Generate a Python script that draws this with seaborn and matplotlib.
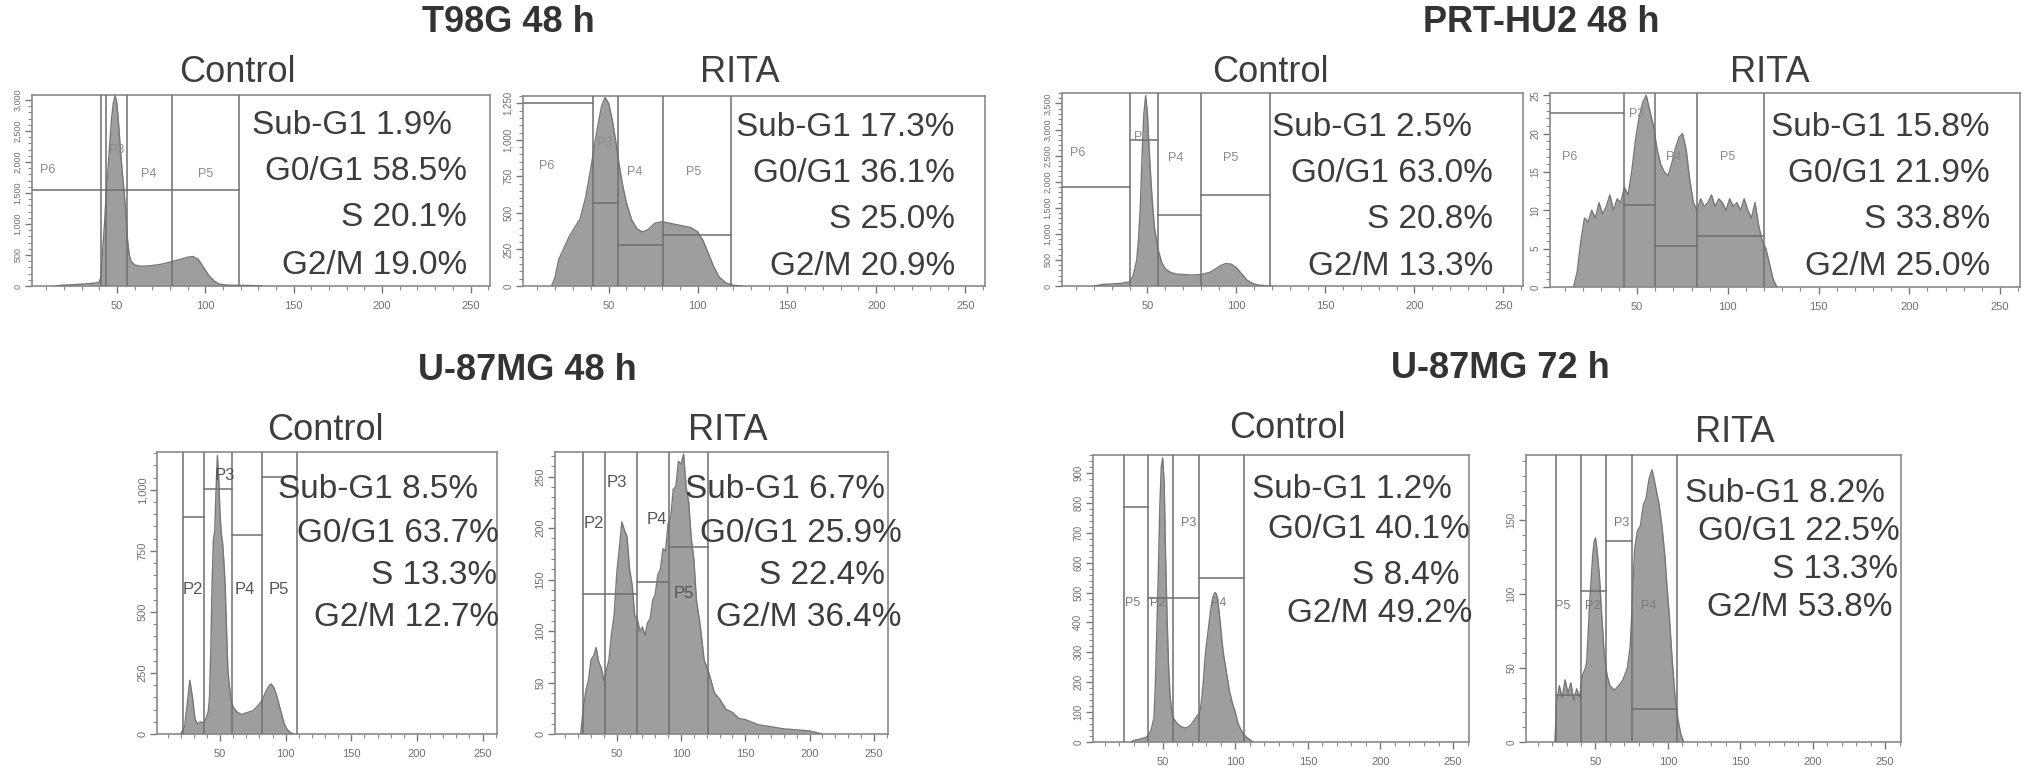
import matplotlib
matplotlib.use("Agg")
import matplotlib.pyplot as plt
from matplotlib.ticker import FuncFormatter, MultipleLocator, FixedLocator
import seaborn as sns

sns.set_style("white")
plt.rcParams['font.family'] = ['Liberation Sans', 'DejaVu Sans']

W, H, DPI = 2031, 777, 100

# ---------------- titles ----------------
GROUP_TITLES = ["T98G 48 h", "PRT-HU2 48 h", "U-87MG 48 h", "U-87MG 72 h"]
PANEL_TITLES = ["Control", "RITA", "Control", "RITA", "Control", "RITA", "Control", "RITA"]
STAT_NAMES = ["Sub-G1", "G0/G1", "S", "G2/M"]

# ---------------- percentages ----------------
T98G_CTRL_PCT = [1.9, 58.5, 20.1, 19.0]
T98G_RITA_PCT = [17.3, 36.1, 25.0, 20.9]
PRT_CTRL_PCT = [2.5, 63.0, 20.8, 13.3]
PRT_RITA_PCT = [15.8, 21.9, 33.8, 25.0]
U87_48_CTRL_PCT = [8.5, 63.7, 13.3, 12.7]
U87_48_RITA_PCT = [6.7, 25.9, 22.4, 36.4]
U87_72_CTRL_PCT = [1.2, 40.1, 8.4, 49.2]
U87_72_RITA_PCT = [8.2, 22.5, 13.3, 53.8]

# ---------------- histograms (channel, count) ----------------
T98G_CTRL_X = [15, 20, 25, 30, 35, 38, 40, 41, 42, 43, 44, 45, 46, 47, 48, 49, 50, 51, 52, 53, 54, 55, 56, 57,
               58, 60, 63, 66, 70, 74, 78, 82, 86, 90, 93, 96, 99, 102, 105, 108, 112, 120, 130, 132]
T98G_CTRL_Y = [0, 15, 20, 30, 40, 50, 60, 150, 600, 1000, 1500, 1900, 2300, 2700, 2950, 3070, 2950, 2600, 2200,
               1850, 1550, 1200, 750, 500, 400, 340, 320, 320, 330, 345, 370, 400, 430, 465, 475, 430, 300, 170,
               80, 30, 15, 10, 5, 0]

T98G_RITA_X = [18, 20, 22, 25, 28, 31, 34, 37, 40, 42, 44, 46, 48, 50, 52, 54, 56, 58, 60, 63, 66, 69, 72, 76,
               80, 84, 88, 92, 96, 100, 103, 106, 109, 112, 116, 120, 125]
T98G_RITA_Y = [0, 60, 180, 260, 340, 400, 460, 600, 800, 960, 1100, 1230, 1290, 1250, 1140, 990, 820, 680, 570,
               450, 390, 370, 385, 430, 440, 430, 420, 410, 400, 370, 310, 220, 130, 60, 20, 5, 0]

PRT_CTRL_X = [20, 25, 30, 35, 40, 42, 44, 45, 46, 47, 48, 49, 50, 51, 52, 53, 54, 56, 58, 60, 63, 66, 70, 75,
              80, 85, 88, 91, 94, 97, 100, 103, 106, 109, 112, 116, 120]
PRT_CTRL_Y = [0, 30, 40, 50, 80, 200, 500, 900, 1500, 2500, 3300, 3650, 3300, 2600, 2000, 1500, 1100, 700, 450,
              330, 260, 230, 220, 210, 220, 260, 320, 390, 430, 420, 350, 230, 110, 50, 20, 5, 0]

PRT_RITA_X = [15, 17, 19, 21, 23, 25, 27, 29, 31, 33, 35, 37, 39, 41, 43, 45, 47, 49, 51, 53, 55, 57, 59, 61,
              63, 65, 67, 69, 71, 73, 75, 77, 79, 81, 83, 85, 87, 89, 91, 93, 95, 97, 99, 101, 103, 105, 107,
              109, 111, 113, 115, 117, 119, 121, 123, 125, 127]
PRT_RITA_Y = [0, 2, 6, 9, 8.5, 10, 9, 11, 9.5, 10.5, 12, 10, 11.5, 11, 13, 12, 15, 19, 22, 24, 25, 23, 21, 18,
              16, 15, 14.5, 16, 18, 19.5, 20, 18, 14, 11, 10, 11.5, 10.5, 11, 12, 10.5, 11.5, 11, 10, 11.5, 10.5,
              11, 10, 11.5, 10, 9, 11, 8, 6, 5, 3, 1, 0]

U87_48_CTRL_X = [20, 23, 25, 27, 29, 31, 33, 35, 37, 39, 41, 42, 43, 44, 45, 46, 47, 48, 49, 50, 51, 52, 53, 54,
                 55, 56, 58, 60, 63, 66, 69, 72, 75, 78, 81, 83, 85, 87, 89, 91, 93, 95, 97, 99, 101, 103, 106]
U87_48_CTRL_Y = [0, 30, 120, 220, 150, 60, 40, 50, 45, 60, 90, 150, 350, 620, 800, 830, 1000, 1140, 1050, 900,
                 820, 780, 700, 600, 420, 260, 150, 110, 90, 80, 85, 90, 95, 110, 130, 150, 175, 195, 205, 190,
                 160, 120, 80, 40, 20, 8, 0]

U87_48_RITA_X = [22, 24, 26, 28, 30, 32, 34, 36, 38, 40, 42, 44, 46, 48, 50, 52, 54, 56, 58, 60, 62, 64, 66, 68,
                 70, 72, 74, 76, 78, 80, 82, 84, 86, 88, 90, 92, 94, 96, 98, 100, 102, 104, 106, 108, 110, 112,
                 115, 118, 122, 126, 130, 135, 140, 145, 150, 160, 170, 180, 190, 200, 210]
U87_48_RITA_Y = [0, 25, 42, 52, 72, 76, 84, 70, 64, 52, 62, 72, 98, 115, 155, 180, 206, 198, 192, 160, 145, 115,
                 112, 100, 104, 96, 108, 112, 130, 136, 155, 160, 180, 178, 205, 210, 238, 240, 265, 262, 272,
                 240, 225, 190, 170, 130, 105, 72, 58, 40, 34, 24, 21, 15, 14, 9, 7, 5, 4, 3, 0]

U87_72_CTRL_X = [28, 30, 33, 36, 38, 40, 42, 44, 45, 46, 47, 48, 49, 50, 51, 52, 53, 54, 55, 56, 57, 58, 60, 63,
                 66, 69, 72, 74, 75, 76, 77, 78, 79, 80, 81, 82, 83, 84, 85, 86, 87, 88, 89, 90, 91, 92, 93, 94,
                 95, 96, 98, 100, 102, 104, 106, 108, 110, 112]
U87_72_CTRL_Y = [0, 5, 8, 12, 15, 20, 40, 80, 200, 380, 560, 780, 920, 950, 870, 620, 420, 260, 160, 110, 85, 75,
                 62, 50, 47, 55, 75, 90, 90, 110, 150, 200, 270, 320, 360, 400, 440, 470, 490, 500, 495, 470,
                 430, 380, 330, 290, 260, 230, 200, 170, 130, 100, 60, 40, 25, 15, 8, 0]

U87_72_RITA_X = [22, 23, 25, 27, 29, 31, 33, 35, 37, 39, 41, 43, 44, 45, 46, 47, 48, 49, 50, 51, 52, 53, 54, 55,
                 56, 58, 60, 63, 66, 69, 72, 74, 75, 76, 77, 79, 81, 83, 85, 87, 89, 90, 92, 94, 96, 98, 99, 101,
                 103, 105, 107, 109, 111]
U87_72_RITA_Y = [0, 25, 38, 30, 42, 33, 40, 28, 36, 30, 45, 50, 55, 75, 95, 110, 125, 135, 138, 130, 120, 108,
                 90, 75, 60, 45, 38, 35, 38, 42, 50, 65, 85, 110, 130, 143, 146, 160, 165, 178, 184, 180, 170,
                 160, 145, 125, 110, 85, 55, 30, 15, 5, 0]

# ---------------- gates: vertical boundaries, horizontal segments (x0, x1, y), labels (name, x, y) -------------
T98G_CTRL_VLINES = [41, 44, 56, 81, 119]
T98G_CTRL_HSEGS = [(2, 119, 1545)]
T98G_CTRL_LABELS = [("P6", 11, 1870), ("P3", 50, 2200), ("P4", 68, 1800), ("P5", 100, 1800)]

T98G_RITA_VLINES = [41, 55, 80.5, 118.5]
T98G_RITA_HSEGS = [(2, 41, 1250), (41, 55, 570), (55, 80.5, 280), (80.5, 118.5, 350)]
T98G_RITA_LABELS = [("P6", 15, 820), ("P3", 47.6, 980), ("P4", 64.6, 780), ("P5", 97.5, 780)]

PRT_CTRL_VLINES = [40.3, 55.7, 80, 119]
PRT_CTRL_HSEGS = [(2, 40.3, 1890), (40.3, 55.7, 2800), (55.7, 80, 1370), (80, 119, 1740)]
PRT_CTRL_LABELS = [("P6", 11, 2550), ("P3", 47, 2850), ("P4", 66, 2450), ("P5", 97, 2450)]

PRT_RITA_VLINES = [43, 60, 83, 120]
PRT_RITA_HSEGS = [(2, 43, 22.7), (43, 60, 10.7), (60, 83, 5.3), (83, 120, 6.7)]
PRT_RITA_LABELS = [("P6", 13, 17), ("P3", 50, 22.5), ("P4", 70, 17), ("P5", 100, 17)]

U87_48_CTRL_VLINES = [22, 37.6, 59, 81.7, 108.6]
U87_48_CTRL_HSEGS = [(22, 37.6, 889), (37.6, 59, 1004), (59, 81.7, 816), (81.7, 108.6, 1053)]
U87_48_CTRL_LABELS = [("P3", 54, 1060), ("P2", 29, 590), ("P4", 69, 590), ("P5", 95, 590)]

U87_48_RITA_VLINES = [24, 40.6, 66, 90.8, 121]
U87_48_RITA_HSEGS = [(24, 66, 136), (66, 90.8, 148), (90.8, 121, 182)]
U87_48_RITA_LABELS = [("P2", 32, 205), ("P3", 50, 244), ("P4", 81, 208), ("P5", 102, 137)]

U87_72_CTRL_VLINES = [23.6, 39.7, 57, 75, 106]
U87_72_CTRL_HSEGS = [(23.6, 39.7, 786), (39.7, 75, 482), (75, 106, 548)]
U87_72_CTRL_LABELS = [("P5", 29, 465), ("P2", 46.7, 465), ("P3", 67.6, 732), ("P4", 88.5, 465)]

U87_72_RITA_VLINES = [23, 40, 57.3, 75.5, 106]
U87_72_RITA_HSEGS = [(23, 40, 32), (40, 57.3, 102), (57.3, 75.5, 136), (75.5, 106, 22)]
U87_72_RITA_LABELS = [("P5", 27, 92), ("P2", 48, 92), ("P3", 68, 148), ("P4", 86.7, 92)]

# ---------------- figure ----------------
fig = plt.figure(figsize=(W / DPI, H / DPI), dpi=DPI)
fig.patch.set_facecolor("white")

TXT = "#3d3d3d"
LINE = "#6e6e6e"
FILL = "#9e9e9e"
EDGE = "#767676"
STAT_FS = 24
SUB_FS = 26
GROUP_FS = 26


def px_axes(l, t, r, b):
    return fig.add_axes([l / W, 1 - b / H, (r - l) / W, (b - t) / H])


def fig_text(x, y, s, **kw):
    fig.text(x / W, 1 - y / H, s, **kw)


panels = [
    dict(box=(32, 95, 490, 286), ymax=3080, ystep=500, x=T98G_CTRL_X, y=T98G_CTRL_Y, v=T98G_CTRL_VLINES,
         h=T98G_CTRL_HSEGS, lab=T98G_CTRL_LABELS, pct=T98G_CTRL_PCT, title=(237, 73),
         sx=[452, 467, 467, 467], sy=[125, 171, 218, 265], lfs=9, lcol="#8a8a8a", yfs=6.5),
    dict(box=(523, 96, 985, 286), ymax=1300, ystep=250, x=T98G_RITA_X, y=T98G_RITA_Y, v=T98G_RITA_VLINES,
         h=T98G_RITA_HSEGS, lab=T98G_RITA_LABELS, pct=T98G_RITA_PCT, title=(740, 73),
         sx=[955] * 4, sy=[127, 173, 220, 266], lfs=9, lcol="#8a8a8a", yfs=7),
    dict(box=(1062, 93, 1523, 286), ymax=3700, ystep=500, x=PRT_CTRL_X, y=PRT_CTRL_Y, v=PRT_CTRL_VLINES,
         h=PRT_CTRL_HSEGS, lab=PRT_CTRL_LABELS, pct=PRT_CTRL_PCT, title=(1270, 73),
         sx=[1472, 1493, 1493, 1493], sy=[127, 173, 220, 266], lfs=9, lcol="#8a8a8a", yfs=6.5),
    dict(box=(1550, 93, 2020, 287), ymax=25.3, ystep=5, x=PRT_RITA_X, y=PRT_RITA_Y, v=PRT_RITA_VLINES,
         h=PRT_RITA_HSEGS, lab=PRT_RITA_LABELS, pct=PRT_RITA_PCT, title=(1770, 73),
         sx=[1990] * 4, sy=[127, 173, 220, 266], lfs=9, lcol="#8a8a8a", yfs=7),
    dict(box=(157, 452, 497, 734), ymax=1155, ystep=250, x=U87_48_CTRL_X, y=U87_48_CTRL_Y, v=U87_48_CTRL_VLINES,
         h=U87_48_CTRL_HSEGS, lab=U87_48_CTRL_LABELS, pct=U87_48_CTRL_PCT, title=(325, 430),
         sx=[478, 499, 497, 499], sy=[490, 533, 575, 618], lfs=12, lcol="#555555", yfs=8),
    dict(box=(555, 452, 888, 734), ymax=274, ystep=50, x=U87_48_RITA_X, y=U87_48_RITA_Y, v=U87_48_RITA_VLINES,
         h=U87_48_RITA_HSEGS, lab=U87_48_RITA_LABELS, pct=U87_48_RITA_PCT, title=(728, 430),
         sx=[885, 902, 885, 902], sy=[490, 533, 575, 618], lfs=12, lcol="#555555", yfs=8),
    dict(box=(1093, 455, 1469, 742), ymax=960, ystep=100, x=U87_72_CTRL_X, y=U87_72_CTRL_Y, v=U87_72_CTRL_VLINES,
         h=U87_72_CTRL_HSEGS, lab=U87_72_CTRL_LABELS, pct=U87_72_CTRL_PCT, title=(1287, 428),
         sx=[1452, 1470, 1460, 1472], sy=[489, 530, 575, 614], lfs=9, lcol="#7a7a7a", yfs=7),
    dict(box=(1526, 455, 1901, 742), ymax=194, ystep=50, x=U87_72_RITA_X, y=U87_72_RITA_Y, v=U87_72_RITA_VLINES,
         h=U87_72_RITA_HSEGS, lab=U87_72_RITA_LABELS, pct=U87_72_RITA_PCT, title=(1735, 432),
         sx=[1885, 1900, 1898, 1893], sy=[494, 532, 569, 607], lfs=9, lcol="#7a7a7a", yfs=7),
]

for i, p in enumerate(panels):
    ax = px_axes(*p["box"])
    ax.set_facecolor("white")
    ax.fill_between(p["x"], p["y"], 0, color=FILL, lw=0, zorder=2)
    sns.lineplot(x=p["x"], y=p["y"], ax=ax, color=EDGE, lw=1.0, zorder=3, sort=False)
    ax.set_xlim(2, 261)
    ax.set_ylim(0, p["ymax"])
    for xv in p["v"]:
        ax.axvline(xv, color=LINE, lw=1.1, zorder=4)
    for (x0, x1, yv) in p["h"]:
        ax.plot([x0, x1], [yv, yv], color=LINE, lw=1.1, zorder=4)
    for (nm, lx, ly) in p["lab"]:
        ax.text(lx, ly, nm, fontsize=p["lfs"], color=p["lcol"], ha="center", va="center", zorder=5)
    ax.xaxis.set_major_locator(FixedLocator([50, 100, 150, 200, 250]))
    ax.xaxis.set_minor_locator(MultipleLocator(10))
    ax.yaxis.set_major_locator(MultipleLocator(p["ystep"]))
    ax.yaxis.set_minor_locator(MultipleLocator(p["ystep"] / 5))
    ax.yaxis.set_major_formatter(FuncFormatter(lambda v, pos: f"{v:,.0f}"))
    ax.tick_params(axis="both", which="major", direction="out", length=5, width=1, color="#777777",
                   labelcolor="#707070", bottom=True, left=True)
    ax.tick_params(axis="both", which="minor", direction="out", length=3, width=0.8, color="#888888",
                   bottom=True, left=True)
    ax.tick_params(axis="x", labelsize=8, pad=6)
    ax.tick_params(axis="y", labelsize=p["yfs"], pad=2)
    for lbl in ax.get_yticklabels():
        lbl.set_rotation(90)
        lbl.set_va("center")
    for s in ax.spines.values():
        s.set_color("#8a8a8a")
        s.set_linewidth(1.2)
    ax.set_xlabel("")
    ax.set_ylabel("")
    fig_text(p["title"][0], p["title"][1], PANEL_TITLES[i], fontsize=SUB_FS, color=TXT, ha="center", va="center")
    for k in range(4):
        fig_text(p["sx"][k], p["sy"][k], f"{STAT_NAMES[k]} {p['pct'][k]:.1f}%", fontsize=STAT_FS, color=TXT,
                 ha="right", va="center", zorder=10)

fig_text(508, 23, GROUP_TITLES[0], fontsize=GROUP_FS, fontweight="bold", color="#333333", ha="center", va="center")
fig_text(1541, 23, GROUP_TITLES[1], fontsize=GROUP_FS, fontweight="bold", color="#333333", ha="center", va="center")
fig_text(527, 370, GROUP_TITLES[2], fontsize=GROUP_FS, fontweight="bold", color="#333333", ha="center", va="center")
fig_text(1500, 368, GROUP_TITLES[3], fontsize=GROUP_FS, fontweight="bold", color="#333333", ha="center", va="center")

fig.savefig("out.png", dpi=DPI, facecolor="white")
